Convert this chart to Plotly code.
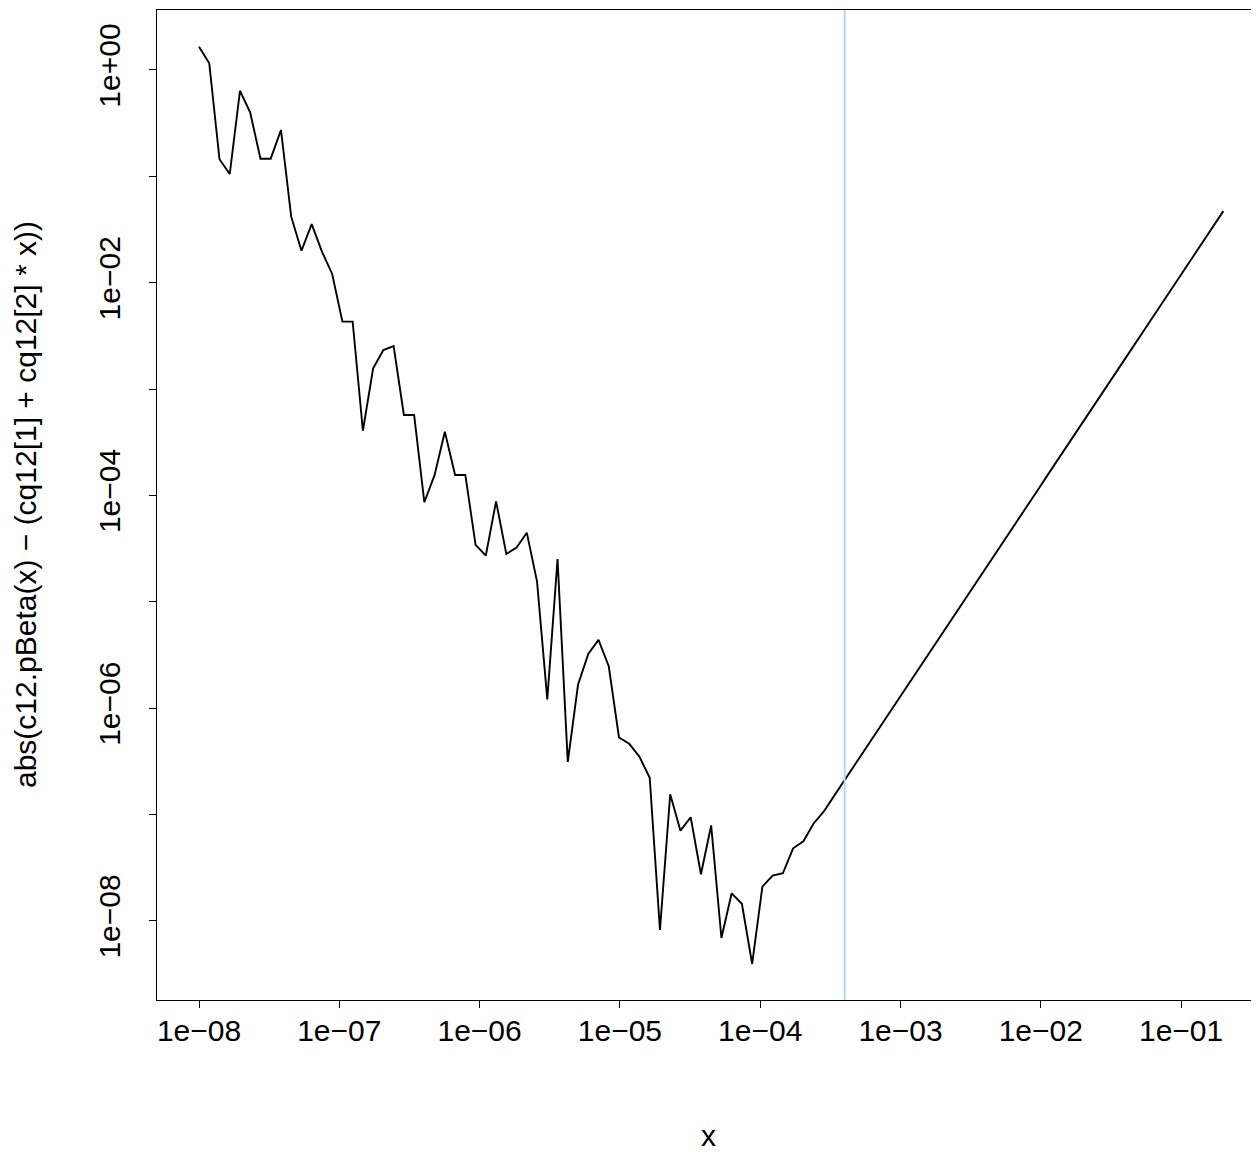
import plotly.graph_objects as go

# x grid (log-spaced from 1e-8 to 0.2, 101 points)
x_vals = [
    1.0000e-8, 1.1831e-8, 1.3997e-8, 1.6560e-8, 1.9592e-8, 2.3179e-8, 2.7423e-8, 3.2443e-8, 3.8383e-8, 4.5410e-8,
    5.3727e-8, 6.3562e-8, 7.5199e-8, 8.8966e-8, 1.0523e-7, 1.2450e-7, 1.4730e-7, 1.7426e-7, 2.0617e-7, 2.4391e-7,
    2.8857e-7, 3.4140e-7, 4.0390e-7, 4.7785e-7, 5.6533e-7, 6.6883e-7, 7.9128e-7, 9.3614e-7, 1.1075e-6, 1.3103e-6,
    1.5502e-6, 1.8340e-6, 2.1697e-6, 2.5669e-6, 3.0369e-6, 3.5929e-6, 4.2506e-6, 5.0288e-6, 5.9495e-6, 7.0387e-6,
    8.3273e-6, 9.8497e-6, 1.1653e-5, 1.3787e-5, 1.6311e-5, 1.9297e-5, 2.2830e-5, 2.7010e-5, 3.1955e-5, 3.7805e-5,
    4.4726e-5, 5.2914e-5, 6.2601e-5, 7.4062e-5, 8.7621e-5, 1.0366e-4, 1.2264e-4, 1.4510e-4, 1.7166e-4, 2.0309e-4,
    2.4027e-4, 2.8426e-4, 3.3630e-4, 3.9787e-4, 4.7071e-4, 5.5689e-4, 6.5884e-4, 7.7946e-4, 9.2216e-4, 1.0910e-3,
    1.2907e-3, 1.5270e-3, 1.8066e-3, 2.1373e-3, 2.5286e-3, 2.9915e-3, 3.5392e-3, 4.1871e-3, 4.9537e-3, 5.8606e-3,
    6.9336e-3, 8.2030e-3, 9.7048e-3, 1.1482e-2, 1.3584e-2, 1.6071e-2, 1.9013e-2, 2.2494e-2, 2.6612e-2, 3.1484e-2,
    3.7248e-2, 4.4067e-2, 5.2135e-2, 6.1680e-2, 7.2972e-2, 8.6332e-2, 1.0214e-1, 1.2084e-1, 1.4296e-1, 1.6914e-1,
    2.0000e-1,
]

# abs(c12.pBeta(x) - (cq12[1] + cq12[2] * x))
y_vals = [
    1.656, 1.156, 0.1449, 0.1052, 0.638, 0.397, 0.1466, 0.1466, 0.273, 0.0418,
    0.0200, 0.0356, 0.0196, 0.0121, 4.31e-3, 4.31e-3, 4.06e-4, 1.57e-3, 2.33e-3, 2.54e-3,
    5.71e-4, 5.71e-4, 8.63e-5, 1.56e-4, 3.98e-4, 1.56e-4, 1.56e-4, 3.43e-5, 2.72e-5, 8.81e-5,
    2.82e-5, 3.24e-5, 4.47e-5, 1.55e-5, 1.21e-6, 2.53e-5, 3.13e-7, 1.66e-6, 3.24e-6, 4.39e-6,
    2.48e-6, 5.31e-7, 4.63e-7, 3.50e-7, 2.22e-7, 8.22e-9, 1.55e-7, 7.06e-8, 9.44e-8, 2.75e-8,
    7.91e-8, 6.92e-9, 1.82e-8, 1.45e-8, 3.94e-9, 2.10e-8, 2.67e-8, 2.81e-8, 4.82e-8, 5.62e-8,
    8.26e-8, 1.07e-7, 1.50e-7, 2.09e-7, 2.92e-7, 4.07e-7, 5.68e-7, 7.92e-7, 1.11e-6, 1.54e-6,
    2.15e-6, 3.01e-6, 4.19e-6, 5.85e-6, 8.17e-6, 1.14e-5, 1.59e-5, 2.22e-5, 3.09e-5, 4.32e-5,
    6.03e-5, 8.40e-5, 1.17e-4, 1.64e-4, 2.28e-4, 3.18e-4, 4.45e-4, 6.19e-4, 8.65e-4, 1.21e-3,
    1.68e-3, 2.35e-3, 3.28e-3, 4.57e-3, 6.38e-3, 8.91e-3, 1.24e-2, 1.73e-2, 2.42e-2, 3.37e-2,
    4.71e-2,
]

vline_x = 4.0e-4

x_tickvals = [1e-8, 1e-7, 1e-6, 1e-5, 1e-4, 1e-3, 1e-2, 1e-1]
x_ticktext = ["1e\u221208", "1e\u221207", "1e\u221206", "1e\u221205", "1e\u221204", "1e\u221203", "1e\u221202", "1e\u221201"]
y_tickvals = [1e0, 1e-1, 1e-2, 1e-3, 1e-4, 1e-5, 1e-6, 1e-7, 1e-8]
y_ticktext = ["1e+00", "", "1e\u221202", "", "1e\u221204", "", "1e\u221206", "", "1e\u221208"]

x_title = "x"
y_title = "abs(c12.pBeta(x) \u2212 (cq12[1] + cq12[2] * x))"

FONT = "Liberation Sans, Arial, Helvetica, sans-serif"
FS = 30

# The page body has an 8px margin, so the figure is shrunk by 8px and margins adjusted
W, H = 1251, 1144
ML, MR, MT, MB = 149, 0, 2, 152
PW = W - ML - MR   # plot width in px
PH = H - MT - MB   # plot height in px

fig = go.Figure()
fig.add_trace(go.Scatter(x=x_vals, y=y_vals, mode="lines",
                         line=dict(color="black", width=1.9), showlegend=False,
                         hoverinfo="skip"))
fig.add_trace(go.Scatter(x=[vline_x, vline_x], y=[1e-15, 1e5], mode="lines",
                         line=dict(color="#ADD8E6", width=1.9), showlegend=False,
                         hoverinfo="skip"))

fig.update_layout(
    width=W, height=H,
    margin=dict(l=ML, r=MR, t=MT, b=MB, autoexpand=False),
    paper_bgcolor="white", plot_bgcolor="white",
    font=dict(family=FONT, size=FS, color="black"),
    xaxis=dict(type="log", range=[-8.2994, -0.4447], tickvals=x_tickvals, ticktext=x_ticktext,
               showgrid=False, zeroline=False, showline=True, mirror=True, linecolor="black",
               linewidth=1, ticks="outside", ticklen=7, tickwidth=1, tickcolor="black",
               ticklabelstandoff=-3, tickfont=dict(size=FS)),
    yaxis=dict(type="log", range=[-8.743, 0.564], tickvals=y_tickvals, ticktext=y_ticktext,
               showgrid=False, zeroline=False, showline=True, mirror=True, linecolor="black",
               linewidth=1, ticks="outside", ticklen=7, tickwidth=1, tickcolor="black",
               tickangle=-90, ticklabelstandoff=17, tickfont=dict(size=FS)),
    annotations=[
        dict(text=x_title, xref="paper", yref="paper", x=0.5, y=-135 / PH,
             showarrow=False, font=dict(size=FS), xanchor="center", yanchor="middle",
             height=26, borderpad=0),
        dict(text=y_title, xref="paper", yref="paper", x=(25 - 157) / PW, y=0.5,
             showarrow=False, font=dict(size=FS), textangle=-90, xanchor="center", yanchor="middle"),
    ],
)

fig.write_html("out.html")
